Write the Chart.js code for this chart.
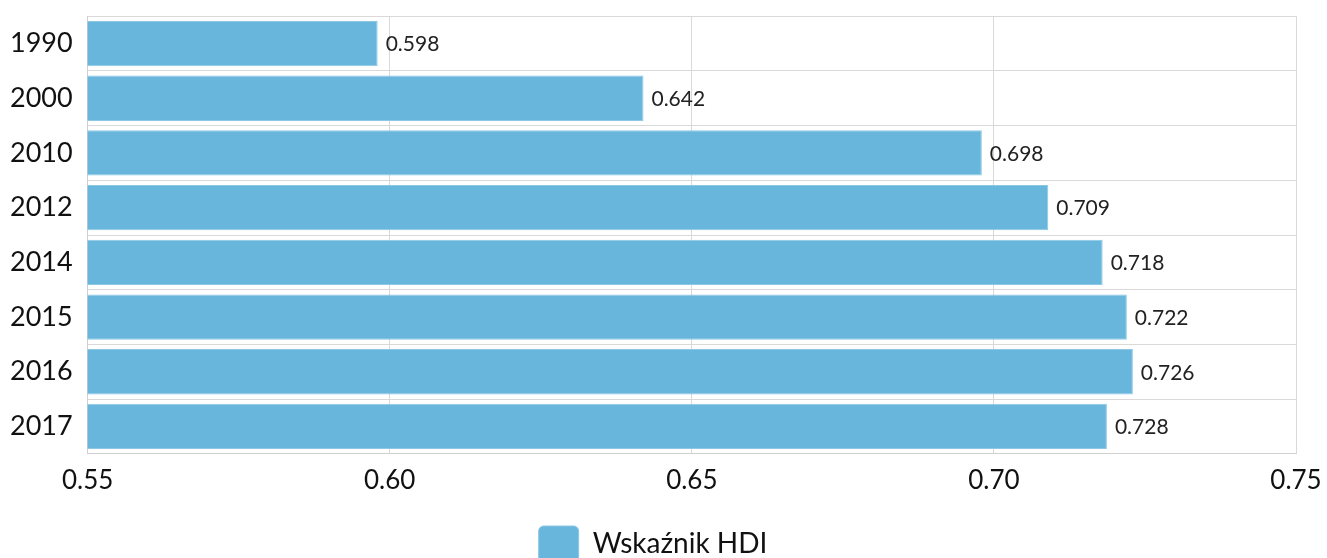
<!DOCTYPE html>
<html>
<head>
<meta charset="utf-8">
<script src="https://cdn.jsdelivr.net/npm/chart.js@4/dist/chart.umd.min.js"></script>
<style>
  html, body { margin: 0; padding: 0; background: #fff; overflow: hidden; }
  #wrap { width: 1327px; height: 572px; }
</style>
</head>
<body>
<div id="wrap"><canvas id="chart"></canvas></div>
<script>
const years = ['1990', '2000', '2010', '2012', '2014', '2015', '2016', '2017'];
// bar lengths as drawn in the picture
const hdiValues = [0.598, 0.642, 0.698, 0.709, 0.718, 0.722, 0.723, 0.7187];
// printed value labels
const hdiLabels = ['0.598', '0.642', '0.698', '0.709', '0.718', '0.722', '0.726', '0.728'];
const xTicks = [0.55, 0.60, 0.65, 0.70, 0.75];
const seriesName = 'Wskaźnik HDI';

const valueLabels = {
    id: 'valueLabels',
    afterDatasetsDraw(chart) {
        const ctx = chart.ctx;
        const meta = chart.getDatasetMeta(0);
        ctx.save();
        ctx.font = '21px Lato';
        ctx.fillStyle = '#222';
        ctx.textAlign = 'left';
        ctx.textBaseline = 'middle';
        meta.data.forEach((bar, i) => {
            ctx.fillText(hdiLabels[i], bar.x + 8, bar.y + 1);
        });
        ctx.restore();
    }
};

Chart.defaults.font.family = 'Lato';
Chart.defaults.color = '#111';

new Chart(document.getElementById('chart'), {
    type: 'bar',
    data: {
        labels: years,
        datasets: [{
            label: seriesName,
            data: hdiValues,
            backgroundColor: '#69b6dc',
            borderColor: '#8cc8e6',
            borderWidth: 1,
            barPercentage: 0.92,
            categoryPercentage: 0.9
        }]
    },
    options: {
        indexAxis: 'y',
        responsive: true,
        maintainAspectRatio: false,
        animation: false,
        layout: { padding: { top: 16, right: 31, left: 10, bottom: 0 } },
        scales: {
            x: {
                min: 0.55,
                max: 0.75,
                afterBuildTicks(axis) {
                    axis.ticks = xTicks.map(v => ({ value: v }));
                },
                ticks: {
                    font: { size: 26 },
                    color: '#111',
                    padding: 0,
                    callback: v => v.toFixed(2)
                },
                grid: { color: '#d9d9d9', drawTicks: true, tickLength: 11, tickColor: 'rgba(0,0,0,0)' },
                border: { color: '#d0d0d0' }
            },
            y: {
                ticks: { font: { size: 27 }, color: '#111', padding: 0 },
                grid: { color: '#d9d9d9', drawTicks: true, tickLength: 15, tickColor: 'rgba(0,0,0,0)', offset: true },
                border: { color: '#d0d0d0' }
            }
        },
        plugins: {
            legend: {
                position: 'bottom',
                labels: {
                    font: { size: 28 },
                    color: '#111',
                    boxWidth: 40,
                    boxHeight: 36,
                    padding: 30,
                    useBorderRadius: true,
                    borderRadius: 5
                }
            },
            tooltip: { enabled: false }
        }
    },
    plugins: [valueLabels]
});
</script>
</body>
</html>
